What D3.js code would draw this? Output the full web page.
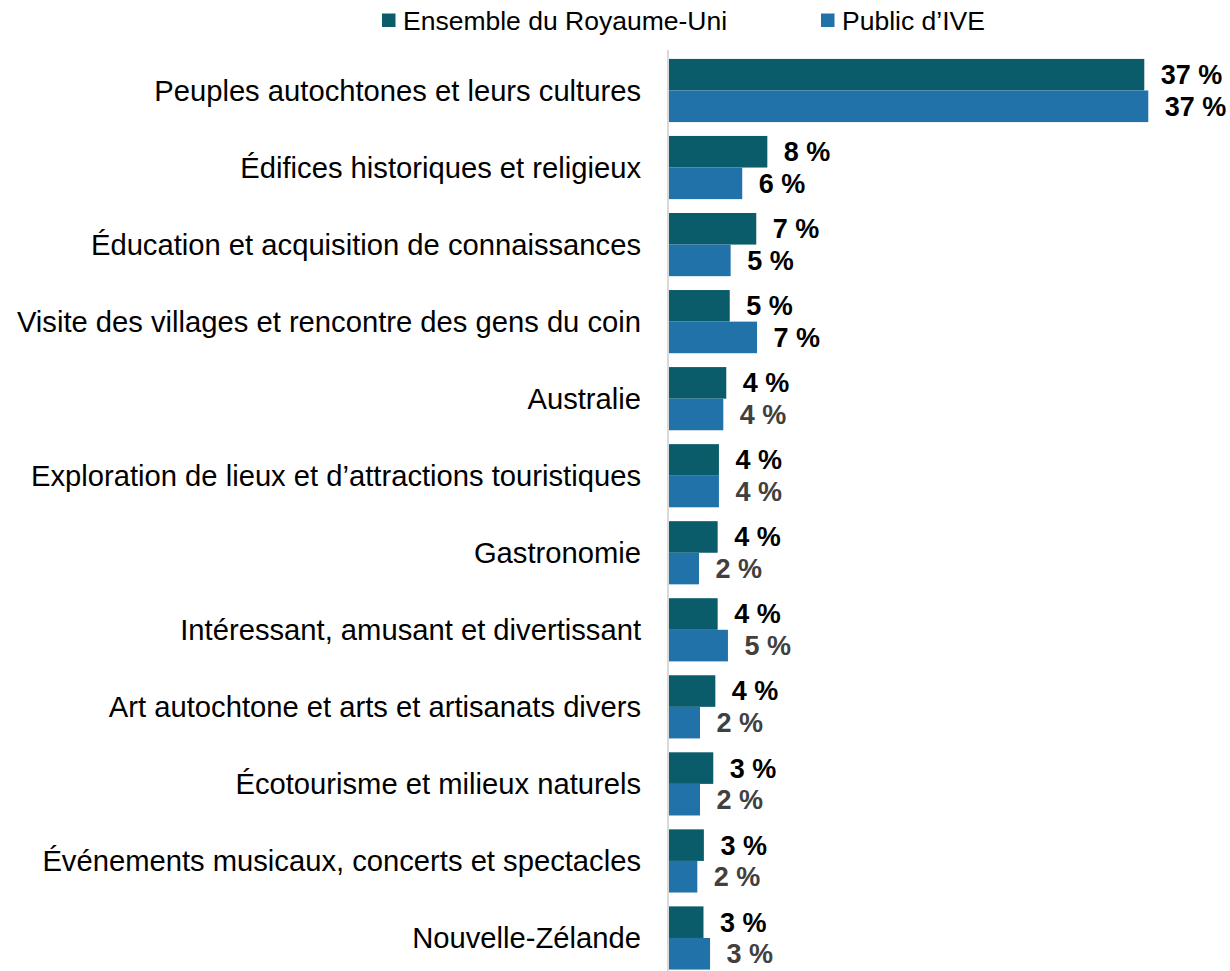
<!DOCTYPE html>
<html>
<head>
<meta charset="utf-8">
<script src="https://cdn.jsdelivr.net/npm/d3@7"></script>
<style>
  html, body { margin: 0; padding: 0; background: #ffffff; }
  svg { display: block; }
</style>
</head>
<body>
<svg id="chart" width="1230" height="971"></svg>
<script>
// ---- Data ----
const categories = [
  "Peuples autochtones et leurs cultures",
  "Édifices historiques et religieux",
  "Éducation et acquisition de connaissances",
  "Visite des villages et rencontre des gens du coin",
  "Australie",
  "Exploration de lieux et d’attractions touristiques",
  "Gastronomie",
  "Intéressant, amusant et divertissant",
  "Art autochtone et arts et artisanats divers",
  "Écotourisme et milieux naturels",
  "Événements musicaux, concerts et spectacles",
  "Nouvelle-Zélande"
];
const seriesNames = ["Ensemble du Royaume-Uni", "Public d’IVE"];
const ukValues  = [36.93, 7.64, 6.78, 4.72, 4.45, 3.88, 3.78, 3.78, 3.60, 3.44, 2.71, 2.68];
const iveValues = [37.24, 5.69, 4.79, 6.84, 4.22, 3.88, 2.33, 4.58, 2.41, 2.41, 2.20, 3.19];
const ukLabels  = ["37 %", "8 %", "7 %", "5 %", "4 %", "4 %", "4 %", "4 %", "4 %", "3 %", "3 %", "3 %"];
const iveLabels = ["37 %", "6 %", "5 %", "7 %", "4 %", "4 %", "2 %", "5 %", "2 %", "2 %", "2 %", "3 %"];

// ---- Styles ----
const colors = ["#0b5c6a", "#2272aa"];
const ukLabelColors  = categories.map(() => "#000000");
const iveLabelColors = ["#000000", "#000000", "#000000", "#000000",
  "#404040", "#404040", "#404040", "#404040", "#404040", "#404040", "#404040", "#404040"];
const FONT = "'Liberation Sans', Arial, sans-serif";

const svg = d3.select("#chart");

const y = d3.scaleBand()
  .domain(categories)
  .range([51.975, 976.5])
  .paddingInner(0.18)
  .paddingOuter(0.09);

const ySub = d3.scaleBand()
  .domain(seriesNames)
  .range([0, y.bandwidth()]);

const x = d3.scaleLinear()
  .domain([0, 40])
  .range([669, 669 + 40 * 12.87]);

const rows = categories.map((c, i) => ({
  cat: c,
  vals: [
    { s: seriesNames[0], v: ukValues[i], label: ukLabels[i], lc: ukLabelColors[i], color: colors[0] },
    { s: seriesNames[1], v: iveValues[i], label: iveLabels[i], lc: iveLabelColors[i], color: colors[1] }
  ]
}));

// category labels
svg.append("g")
  .selectAll("text")
  .data(categories)
  .join("text")
  .attr("x", 641)
  .attr("y", d => y(d) + y.bandwidth() / 2)
  .attr("dy", "0.35em")
  .attr("text-anchor", "end")
  .attr("font-family", FONT)
  .attr("font-size", 29.2)
  .attr("fill", "#000")
  .text(d => d);

// bars
const groups = svg.append("g")
  .selectAll("g")
  .data(rows)
  .join("g")
  .attr("transform", d => `translate(0,${y(d.cat)})`);

groups.selectAll("rect")
  .data(d => d.vals)
  .join("rect")
  .attr("x", x(0))
  .attr("y", d => ySub(d.s))
  .attr("width", d => x(d.v) - x(0))
  .attr("height", ySub.bandwidth())
  .attr("fill", d => d.color);

groups.selectAll("text")
  .data(d => d.vals)
  .join("text")
  .attr("x", d => x(d.v) + 16.5)
  .attr("y", d => ySub(d.s) + ySub.bandwidth() / 2)
  .attr("dy", "0.35em")
  .attr("font-family", FONT)
  .attr("font-size", 27)
  .attr("font-weight", "bold")
  .attr("fill", d => d.lc)
  .text(d => d.label);

// axis line
svg.append("line")
  .attr("x1", 668).attr("x2", 668)
  .attr("y1", 50).attr("y2", 971)
  .attr("stroke", "#d9d9d9")
  .attr("stroke-width", 2);

// legend
const legendX = [382, 821];
const legend = svg.append("g")
  .selectAll("g")
  .data(seriesNames)
  .join("g")
  .attr("transform", (d, i) => `translate(${legendX[i]},0)`);
legend.append("rect")
  .attr("x", 0).attr("y", 13.5)
  .attr("width", 13.5).attr("height", 13.5)
  .attr("fill", (d, i) => colors[i]);
legend.append("text")
  .attr("x", 21)
  .attr("y", 20.5)
  .attr("dy", "0.35em")
  .attr("font-family", FONT)
  .attr("font-size", 26.5)
  .attr("fill", "#000")
  .text(d => d);
</script>
</body>
</html>
